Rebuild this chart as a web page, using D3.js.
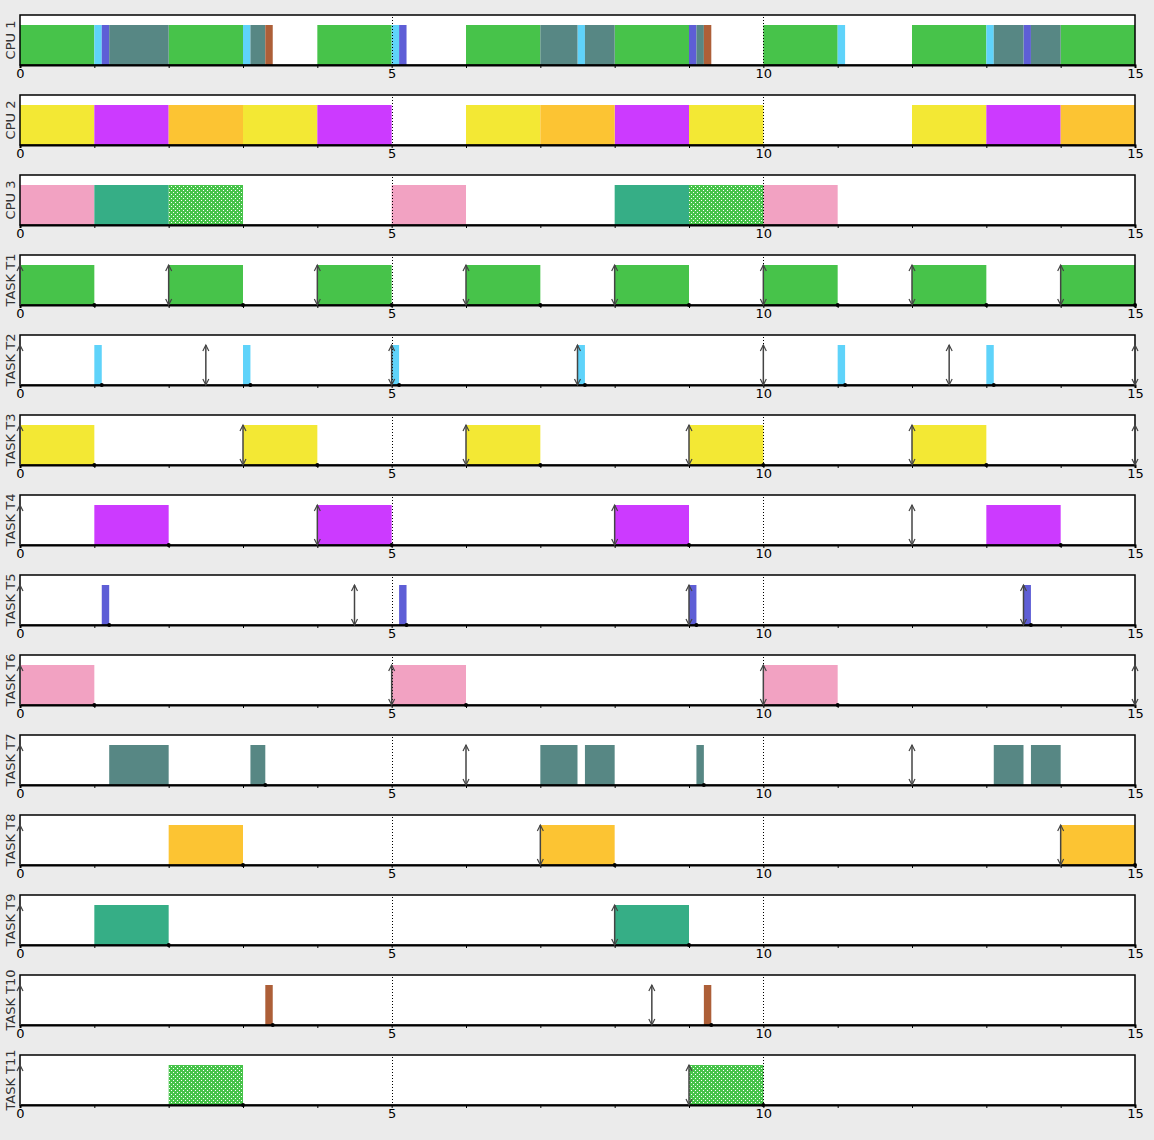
<!DOCTYPE html>
<html><head><meta charset="utf-8">
<script src="https://cdn.jsdelivr.net/npm/d3@7"></script>
<style>body{margin:0;background:#ebebeb;}svg{display:block;}</style>
</head><body>
<svg id="chart" width="1154" height="1140"></svg>
<script>
// ---- data ----
const timeDomain = [0, 15];
const tickLabels = [0, 5, 10, 15];
const gridTimes = [5, 10];
const cpuLabels = ["CPU 1", "CPU 2", "CPU 3"];
const taskNames = ["T1","T2","T3","T4","T5","T6","T7","T8","T9","T10","T11"];
const taskColors = ["#47c34a","#5fd3fa","#f3e834","#cc3aff","#5e5ed6","#f2a2c2","#578784","#fcc433","#36ae86","#ad5f38","#47c34a"];
const taskDotted = [false,false,false,false,false,false,false,false,false,false,true];
const taskCpu = [1,1,2,2,1,3,1,2,3,1,3];

const execT1 = [[0,1],[2,3],[4,5],[6,7],[8,9],[10,11],[12,13],[14,15]];
const execT2 = [[1,1.1],[3,3.1],[5,5.1],[7.5,7.6],[11,11.1],[13,13.1]];
const execT3 = [[0,1],[3,4],[6,7],[9,10],[12,13]];
const execT4 = [[1,2],[4,5],[8,9],[13,14]];
const execT5 = [[1.1,1.2],[5.1,5.2],[9,9.1],[13.5,13.6]];
const execT6 = [[0,1],[5,6],[10,11]];
const execT7 = [[1.2,2],[3.1,3.3],[7,7.5],[7.6,8],[9.1,9.2],[13.1,13.5],[13.6,14]];
const execT8 = [[2,3],[7,8],[14,15]];
const execT9 = [[1,2],[8,9]];
const execT10 = [[3.3,3.4],[9.2,9.3]];
const execT11 = [[2,3],[9,10]];
const taskExec = [execT1,execT2,execT3,execT4,execT5,execT6,execT7,execT8,execT9,execT10,execT11];

const arrivals = [
  [0,2,4,6,8,10,12,14],
  [0,2.5,5,7.5,10,12.5,15],
  [0,3,6,9,12,15],
  [0,4,8,12],
  [0,4.5,9,13.5],
  [0,5,10,15],
  [0,6,12],
  [0,7,14],
  [0,8],
  [0,8.5],
  [0,9]
];
const deadlines = [
  [2,4,6,8,10,12,14],
  [2.5,5,7.5,10,12.5,15],
  [3,6,9,12,15],
  [4,8,12],
  [4.5,9,13.5],
  [5,10,15],
  [6,12],
  [7,14],
  [8],
  [8.5],
  [9]
];
const completions = [
  [1,3,5,7,9,11,13,15],
  [1.1,3.1,5.1,7.6,11.1,13.1],
  [1,4,7,10,13],
  [2,5,9,14],
  [1.2,5.2,9.1,13.6],
  [1,6,11],
  [3.3,9.2],
  [3,8,15],
  [2,9],
  [3.4,9.3],
  [3,10]
];

// ---- layout ----
const svg = d3.select("#chart");
const left = 20, right = 1135, top0 = 15, rowStep = 80, panelH = 50, barTop = 10;
const x = d3.scaleLinear().domain(timeDomain).range([left, right]);

const defs = svg.append("defs");
const pat = defs.append("pattern").attr("id","dots").attr("patternUnits","userSpaceOnUse")
  .attr("width",4).attr("height",4);
pat.append("rect").attr("width",4).attr("height",4).attr("fill","#47c34a");
pat.append("rect").attr("x",1).attr("y",1).attr("width",1).attr("height",1).attr("fill","#ffffff");
pat.append("rect").attr("x",3).attr("y",3).attr("width",1).attr("height",1).attr("fill","#ffffff");

function fillFor(i){ return taskDotted[i] ? "url(#dots)" : taskColors[i]; }

// build rows
const rows = [];
cpuLabels.forEach((lab, c) => {
  const segs = [];
  taskExec.forEach((ex, i) => { if (taskCpu[i] === c+1) ex.forEach(s => segs.push({s:s[0], e:s[1], t:i})); });
  rows.push({label: lab, segs, task: null});
});
taskNames.forEach((n, i) => {
  rows.push({label: "TASK " + n, segs: taskExec[i].map(s => ({s:s[0], e:s[1], t:i})), task: i});
});

const font = "'DejaVu Sans', sans-serif";

rows.forEach((row, r) => {
  const g = svg.append("g").attr("transform", `translate(0,${top0 + r*rowStep})`);
  g.append("rect").attr("x", left).attr("y", 0).attr("width", right-left).attr("height", panelH)
    .attr("fill", "#ffffff");
  // bars
  g.selectAll("rect.bar").data(row.segs).enter().append("rect").attr("class","bar")
    .attr("x", d => x(d.s)).attr("y", barTop)
    .attr("width", d => x(d.e) - x(d.s)).attr("height", panelH - barTop)
    .attr("fill", d => fillFor(d.t));
  // grid lines
  g.selectAll("line.grid").data(gridTimes).enter().append("line").attr("class","grid")
    .attr("x1", d => Math.round(x(d))+0.5).attr("x2", d => Math.round(x(d))+0.5)
    .attr("y1", 2).attr("y2", panelH)
    .attr("stroke", "#000").attr("stroke-width", 1).attr("stroke-dasharray", "1,2");
  // frame
  g.append("rect").attr("x", left).attr("y", 0).attr("width", right-left).attr("height", panelH)
    .attr("fill", "none").attr("stroke", "#000").attr("stroke-width", 1.5);
  // axis
  const axis = d3.axisBottom(x).tickValues(d3.range(0, 16)).tickSize(3)
    .tickFormat(d => tickLabels.includes(d) ? d : "");
  const ag = g.append("g").attr("transform", `translate(0,${panelH})`).call(axis);
  ag.select(".domain").attr("stroke", "#000").attr("stroke-width", 2);
  ag.selectAll(".tick line").attr("stroke", "#000");
  ag.selectAll(".tick text").attr("font-family", font).attr("font-size", 13).attr("fill", "#000").attr("dy", "0.55em");
  // y label
  g.append("text").attr("transform", `translate(15,${panelH/2}) rotate(-90)`)
    .attr("text-anchor", "middle").attr("font-family", font).attr("font-size", 13)
    .attr("fill", "#333").text(row.label);

  if (row.task !== null) {
    const i = row.task;
    const times = Array.from(new Set(arrivals[i].concat(deadlines[i]))).sort((a,b)=>a-b);
    const arrowData = times.map(t => ({t, up: arrivals[i].includes(t), down: deadlines[i].includes(t)}));
    const ar = g.selectAll("g.arrow").data(arrowData).enter().append("g").attr("class","arrow")
      .attr("transform", d => `translate(${x(d.t)},0)`);
    const col = "#444";
    ar.append("line").attr("x1",0).attr("x2",0).attr("y1",barTop).attr("y2",panelH)
      .attr("stroke", col).attr("stroke-width", 1.5);
    ar.filter(d => d.up).append("path").attr("d", `M-3,${barTop+6}L0,${barTop}L3,${barTop+6}`)
      .attr("fill","none").attr("stroke", col).attr("stroke-width", 1.2);
    ar.filter(d => d.down).append("path").attr("d", `M-3,${panelH-6}L0,${panelH}L3,${panelH-6}`)
      .attr("fill","none").attr("stroke", col).attr("stroke-width", 1.2);
    g.selectAll("circle.done").data(completions[i]).enter().append("circle").attr("class","done")
      .attr("cx", d => x(d)).attr("cy", panelH).attr("r", 2).attr("fill", "#000");
  }
});
</script>
</body></html>
